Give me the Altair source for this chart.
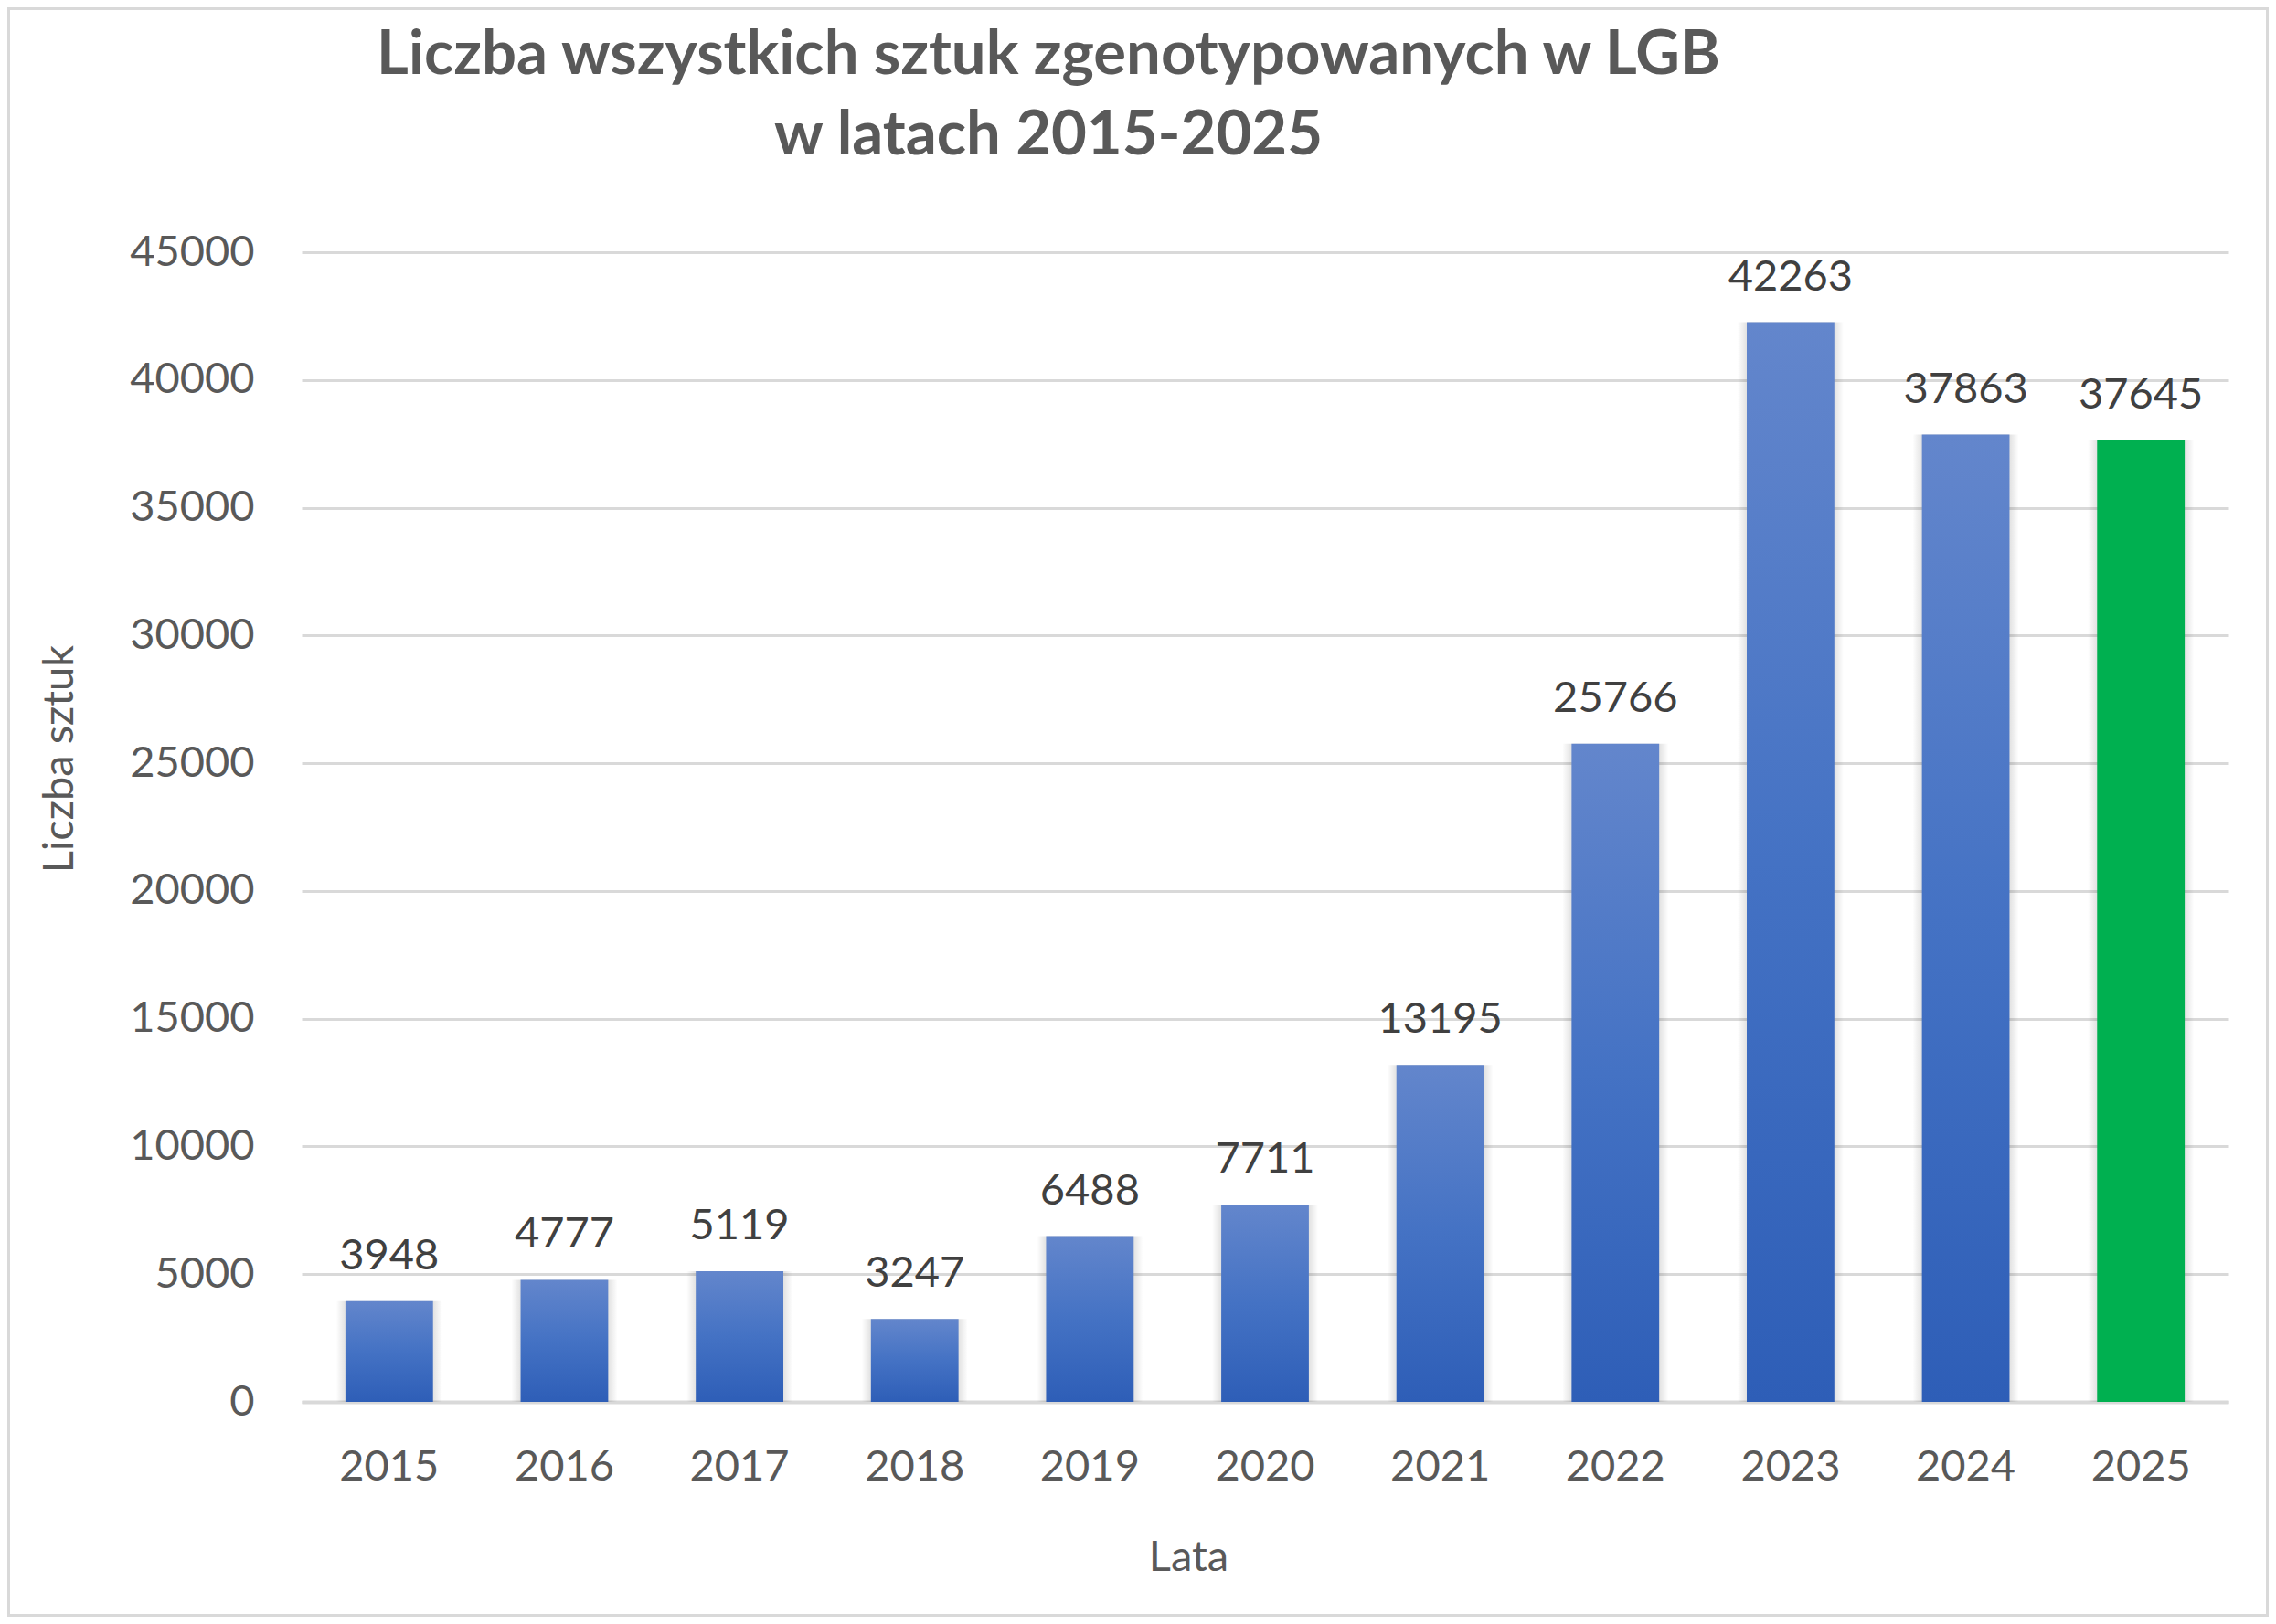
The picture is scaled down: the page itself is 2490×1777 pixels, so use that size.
import altair as alt
import pandas as pd

years = ["2015", "2016", "2017", "2018", "2019", "2020", "2021", "2022", "2023", "2024", "2025"]
values = [3948, 4777, 5119, 3247, 6488, 7711, 13195, 25766, 42263, 37863, 37645]
highlight_year = "2025"
y_ticks = [0, 5000, 10000, 15000, 20000, 25000, 30000, 35000, 40000, 45000]

title_lines = ["Liczba wszystkich sztuk zgenotypowanych w LGB", "w latach 2015-2025"]
x_title = "Lata"
y_title = "Liczba sztuk"

df = pd.DataFrame({"year": years, "value": values})

FONT = "Lato"
GREY = "#595959"
W, H = 2108, 1258
PAD = {"left": 322, "top": 268, "right": 44, "bottom": 235}

blue_grad = alt.Gradient(
    gradient="linear", x1=0, y1=0, x2=0, y2=1,
    stops=[alt.GradientStop(offset=0, color="#6386CC"),
           alt.GradientStop(offset=0.5, color="#4472C4"),
           alt.GradientStop(offset=1, color="#2E5EB7")],
)
shadow_grad = alt.Gradient(
    gradient="linear", x1=0, y1=0, x2=1, y2=0,
    stops=[alt.GradientStop(offset=0, color="rgba(0,0,0,0)"),
           alt.GradientStop(offset=0.12, color="rgba(0,0,0,0.16)"),
           alt.GradientStop(offset=0.88, color="rgba(0,0,0,0.16)"),
           alt.GradientStop(offset=1, color="rgba(0,0,0,0)")],
)

x_enc = alt.X(
    "year:N", sort=years,
    scale=alt.Scale(paddingInner=0.5, paddingOuter=0.25),
    axis=alt.Axis(
        labelAngle=0, labelFont=FONT, labelFontSize=47, labelColor=GREY,
        labelPadding=48, ticks=False, domain=True, domainColor="#D9D9D9",
        domainWidth=4, grid=False,
        title=x_title, titleFont=FONT, titleFontSize=47, titleFontWeight="normal",
        titleColor=GREY, titleX=970, titleY=170, titleBaseline="middle",
    ),
)
y_enc = alt.Y(
    "value:Q",
    scale=alt.Scale(domain=[0, 45000], nice=False),
    axis=alt.Axis(
        values=y_ticks, format="d", labelFont=FONT, labelFontSize=47,
        labelColor=GREY, labelPadding=52, ticks=False, domain=False,
        grid=True, gridColor="#D9D9D9", gridWidth=3,
        title=y_title, titleFont=FONT, titleFontSize=47, titleFontWeight="normal",
        titleColor=GREY, titleX=-265, titleY=554, titleBaseline="middle",
        titleAlign="center",
    ),
)

base = alt.Chart(df)

shadow = base.mark_bar(width=116, color=shadow_grad).encode(x=x_enc, y=y_enc)

blue = base.transform_filter(alt.datum.year != highlight_year).mark_bar(
    color=blue_grad).encode(x=x_enc, y=y_enc)

green = base.transform_filter(alt.datum.year == highlight_year).mark_bar(
    color="#00B050").encode(x=x_enc, y=y_enc)

labels = base.mark_text(
    dy=-35, baseline="alphabetic", font=FONT, fontSize=47, color="#404040"
).encode(x=x_enc, y=y_enc, text=alt.Text("value:Q", format="d"))

frame = alt.Chart(pd.DataFrame({"k": [0]})).mark_rect(
    fillOpacity=0, stroke="#D9D9D9", strokeWidth=3
).encode(
    x=alt.value(-PAD["left"] + 1.5),
    x2=alt.value(W + PAD["right"] - 1.5),
    y=alt.value(-PAD["top"] + 1.5),
    y2=alt.value(H + PAD["bottom"] - 1.5),
)

chart = alt.layer(frame, shadow, blue, green, labels).properties(
    width=W, height=H,
    padding=PAD,
    autosize=alt.AutoSizeParams(type="none"),
    background="white",
    title=alt.TitleParams(
        text=title_lines, font=FONT, fontSize=67, fontWeight="bold",
        color=GREY, lineHeight=88, anchor="middle", frame="group",
        baseline="alphabetic", dx=-237, offset=0, dy=228,
    ),
).configure_view(stroke=None)

chart.save("out.html", embed_options={"renderer": "svg", "actions": False})
